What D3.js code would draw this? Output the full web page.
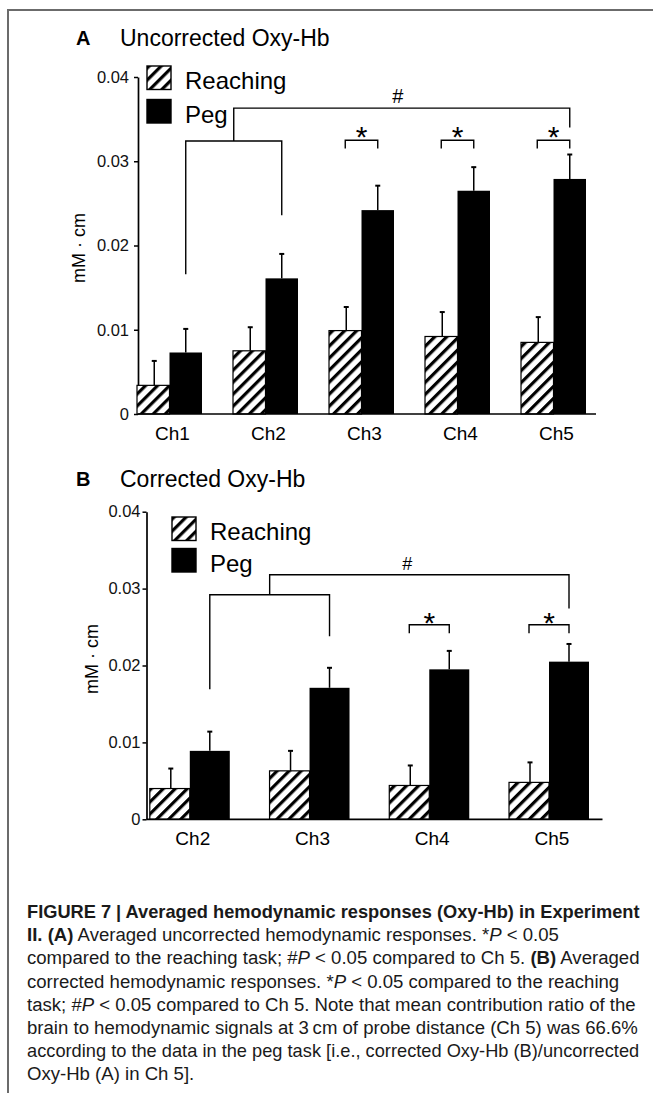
<!DOCTYPE html>
<html>
<head>
<meta charset="utf-8">
<script src="https://cdn.jsdelivr.net/npm/d3@7"></script>
<style>
  body { margin: 0; background: #fff; }
  svg { display: block; font-family: "Liberation Sans", Arial, sans-serif; }
</style>
</head>
<body>
<svg id="fig" width="653" height="1093"></svg>
<script>
// ---- data ----
const channelsA = ['Ch1', 'Ch2', 'Ch3', 'Ch4', 'Ch5'];
const reachingA = [0.0034, 0.0075, 0.0099, 0.0092, 0.0085];
const reachingErrA = [0.0029, 0.0028, 0.0028, 0.0029, 0.0030];
const pegA = [0.0073, 0.0161, 0.0242, 0.0265, 0.0279];
const pegErrA = [0.0028, 0.0029, 0.0029, 0.0028, 0.0029];

const channelsB = ['Ch2', 'Ch3', 'Ch4', 'Ch5'];
const reachingB = [0.0040, 0.0063, 0.0044, 0.0048];
const reachingErrB = [0.0026, 0.0026, 0.0026, 0.0026];
const pegB = [0.0089, 0.0171, 0.0195, 0.0205];
const pegErrB = [0.0025, 0.0026, 0.0024, 0.0023];

const yTicks = [0, 0.01, 0.02, 0.03, 0.04];
const yTickLabels = ['0', '0.01', '0.02', '0.03', '0.04'];
const seriesNames = ['Reaching', 'Peg'];

// significance marks: * brackets (top, leg end) and # bracket levels
const starChannelsA = ['Ch3', 'Ch4', 'Ch5'];
const starLevelsA = [0.0325, 0.0315];
const hashPairA = ['Ch1', 'Ch2'];
const hashTargetA = 'Ch5';
// [left leg end, right leg end, lower top, upper top, target leg end]
const hashLevelsA = [0.0166, 0.0236, 0.0324, 0.0363, 0.0340];

const starChannelsB = ['Ch4', 'Ch5'];
const starLevelsB = [0.0253, 0.0242];
const hashPairB = ['Ch2', 'Ch3'];
const hashTargetB = 'Ch5';
const hashLevelsB = [0.0169, 0.0238, 0.0292, 0.0318, 0.0274];

const captionLines = [
  [['b', 'FIGURE 7 | Averaged hemodynamic responses (Oxy-Hb) in Experiment']],
  [['b', 'II.'], ['n', ' '], ['b', '(A)'], ['n', ' Averaged uncorrected hemodynamic responses. *'], ['i', 'P'], ['n', ' < 0.05']],
  [['n', 'compared to the reaching task; #'], ['i', 'P'], ['n', ' < 0.05 compared to Ch 5. '], ['b', '(B)'], ['n', ' Averaged']],
  [['n', 'corrected hemodynamic responses. *'], ['i', 'P'], ['n', ' < 0.05 compared to the reaching']],
  [['n', 'task; #'], ['i', 'P'], ['n', ' < 0.05 compared to Ch 5. Note that mean contribution ratio of the']],
  [['n', 'brain to hemodynamic signals at 3\u2009cm of probe distance (Ch 5) was 66.6%']],
  [['n', 'according to the data in the peg task [i.e., corrected Oxy-Hb (B)/uncorrected']],
  [['n', 'Oxy-Hb (A) in Ch 5].']]
];

class BarPanel {
  constructor(_config, _channels, _reach, _reachErr, _peg, _pegErr) {
    this.config = _config;
    this.channels = _channels;
    this.reach = _reach;
    this.reachErr = _reachErr;
    this.peg = _peg;
    this.pegErr = _pegErr;
    this.initVis();
  }

  initVis() {
    let vis = this;
    const c = vis.config;
    vis.svg = d3.select(c.parentElement);

    vis.yScale = d3.scaleLinear().domain([0, 0.04]).range(c.yRange);
    vis.xScale = d3.scaleBand()
      .domain(vis.channels)
      .range(c.xRange)
      .paddingInner(c.paddingInner)
      .paddingOuter(0);

    vis.chart = vis.svg.append('g');

    // panel letter + title
    vis.chart.append('text')
      .attr('x', c.letterPos[0]).attr('y', c.letterPos[1])
      .attr('font-size', 20).attr('font-weight', 'bold')
      .text(c.letter);
    vis.chart.append('text')
      .attr('x', c.titlePos[0]).attr('y', c.titlePos[1])
      .attr('font-size', 23)
      .text(c.title);

    // y axis
    vis.yAxis = d3.axisLeft(vis.yScale)
      .tickValues(yTicks)
      .tickFormat((d, i) => yTickLabels[i])
      .tickSize(4)
      .tickSizeOuter(0)
      .tickPadding(c.tickPadding);
    vis.yAxisG = vis.chart.append('g')
      .attr('transform', `translate(${c.axisX},0)`)
      .call(vis.yAxis);
    vis.yAxisG.select('.domain').attr('stroke-width', 1.7);
    vis.yAxisG.selectAll('.tick line').attr('stroke-width', 1.5);
    vis.yAxisG.selectAll('.tick text')
      .attr('font-size', 16.5)
      .attr('font-family', '"Liberation Sans", Arial, sans-serif')
      .attr('fill', '#111');

    vis.chart.append('text')
      .attr('transform', `translate(${c.yLabelPos[0]},${c.yLabelPos[1]}) rotate(-90)`)
      .attr('text-anchor', 'middle')
      .attr('dominant-baseline', 'central')
      .attr('font-size', 18)
      .text('mM \u00b7 cm');

    // legend
    const lg = vis.chart.append('g').attr('transform', `translate(${c.legendPos[0]},${c.legendPos[1]})`);
    seriesNames.forEach((name, i) => {
      lg.append('rect')
        .attr('x', 0).attr('y', i * c.legendGap)
        .attr('width', 24).attr('height', 23.5)
        .attr('fill', i === 0 ? 'url(#hatch)' : '#000')
        .attr('stroke', '#000').attr('stroke-width', 1.4);
      lg.append('text')
        .attr('x', 38).attr('y', i * c.legendGap + 23)
        .attr('font-size', 24)
        .text(name);
    });
  }

  renderVis() {
    let vis = this;
    const c = vis.config;
    const x = vis.xScale, y = vis.yScale;
    const bw = x.bandwidth() / 2;

    const rows = vis.channels.map((ch, i) => ({
      ch, reach: vis.reach[i], reachErr: vis.reachErr[i], peg: vis.peg[i], pegErr: vis.pegErr[i]
    }));

    const groups = vis.chart.selectAll('.grp').data(rows).join('g').attr('class', 'grp');

    groups.append('rect')
      .attr('x', d => x(d.ch)).attr('width', bw)
      .attr('y', d => y(d.reach)).attr('height', d => y(0) - y(d.reach))
      .attr('fill', 'url(#hatch)').attr('stroke', '#000').attr('stroke-width', 1.2);
    groups.append('rect')
      .attr('x', d => x(d.ch) + bw).attr('width', bw)
      .attr('y', d => y(d.peg)).attr('height', d => y(0) - y(d.peg))
      .attr('fill', '#000');

    // error bars (upper only)
    const err = (sel, xf, mean, e) => {
      sel.append('line')
        .attr('x1', xf).attr('x2', xf)
        .attr('y1', d => y(mean(d))).attr('y2', d => y(mean(d) + e(d)))
        .attr('stroke', '#000').attr('stroke-width', 1.5);
      sel.append('line')
        .attr('x1', d => xf(d) - 2.5).attr('x2', d => xf(d) + 2.5)
        .attr('y1', d => y(mean(d) + e(d))).attr('y2', d => y(mean(d) + e(d)))
        .attr('stroke', '#000').attr('stroke-width', 2);
    };
    err(groups, d => x(d.ch) + bw / 2 + 1, d => d.reach, d => d.reachErr);
    err(groups, d => x(d.ch) + bw * 1.5, d => d.peg, d => d.pegErr);

    // x axis line and labels
    vis.chart.append('line')
      .attr('x1', c.axisX).attr('x2', c.axisEnd)
      .attr('y1', y(0)).attr('y2', y(0))
      .attr('stroke', '#000').attr('stroke-width', 1.7);
    vis.chart.selectAll('.xlab').data(vis.channels).join('text')
      .attr('class', 'xlab')
      .attr('x', d => x(d) + x.bandwidth() / 2 + 3)
      .attr('y', c.xLabelY)
      .attr('text-anchor', 'middle')
      .attr('font-size', 19)
      .text(d => d);

    vis.renderMarks();
  }

  renderMarks() {
    let vis = this;
    const c = vis.config;
    const x = vis.xScale, y = vis.yScale;
    const bw = x.bandwidth() / 2;
    const reachC = ch => x(ch) + bw / 2;
    const pegC = ch => x(ch) + bw * 1.5;
    const line = d3.line();
    const marks = vis.chart.append('g')
      .attr('fill', 'none').attr('stroke', '#000').attr('stroke-width', 1.4);

    // * brackets
    c.starChannels.forEach(ch => {
      const [top, leg] = c.starLevels;
      marks.append('path').attr('d', line([
        [reachC(ch), y(leg)], [reachC(ch), y(top)], [pegC(ch), y(top)], [pegC(ch), y(leg)]
      ]));
      vis.chart.append('text')
        .attr('x', (reachC(ch) + pegC(ch)) / 2)
        .attr('y', y(top) + c.starDy)
        .attr('text-anchor', 'middle')
        .attr('font-size', 30)
        .text('*');
    });

    // # bracket
    const [l0, l1, lowTop, upTop, tLeg] = c.hashLevels;
    const xa = pegC(c.hashPair[0]), xb = pegC(c.hashPair[1]);
    const xm = (xa + xb) / 2, xt = pegC(c.hashTarget);
    marks.append('path').attr('d', line([
      [xa, y(l0)], [xa, y(lowTop)], [xb, y(lowTop)], [xb, y(l1)]
    ]));
    marks.append('path').attr('d', line([
      [xm, y(lowTop)], [xm, y(upTop)], [xt, y(upTop)], [xt, y(tLeg)]
    ]));
    vis.chart.append('text')
      .attr('x', (xm + xt) / 2 + c.hashDx)
      .attr('y', y(upTop) + c.hashDy)
      .attr('text-anchor', 'middle')
      .attr('font-size', c.hashSize)
      .text('#');
  }
}

const svg = d3.select('#fig');

// hatch pattern
svg.append('defs').append('pattern')
  .attr('id', 'hatch')
  .attr('patternUnits', 'userSpaceOnUse')
  .attr('width', 8.5).attr('height', 8.5)
  .attr('patternTransform', 'rotate(45)')
  .call(p => {
    p.append('rect').attr('width', 8.5).attr('height', 8.5).attr('fill', '#fff');
    p.append('rect').attr('width', 3.2).attr('height', 8.5).attr('fill', '#000');
  });

// outer frame (top and left edges visible)
svg.append('rect')
  .attr('x', 8).attr('y', 10).attr('width', 700).attr('height', 1150)
  .attr('fill', 'none').attr('stroke', '#6b6b6b').attr('stroke-width', 2);

const panelA = new BarPanel({
  parentElement: '#fig',
  letter: 'A', title: 'Uncorrected Oxy-Hb',
  letterPos: [76, 45], titlePos: [120, 46],
  yRange: [414, 77], xRange: [137, 586], paddingInner: 0.323,
  axisX: 138, axisEnd: 596, tickPadding: 5,
  yLabelPos: [79, 248], xLabelY: 440,
  legendPos: [147, 66], legendGap: 33.5,
  starChannels: starChannelsA, starLevels: starLevelsA, starDy: 7,
  hashPair: hashPairA, hashTarget: hashTargetA, hashLevels: hashLevelsA,
  hashDx: -4, hashDy: -5, hashSize: 20
}, channelsA, reachingA, reachingErrA, pegA, pegErrA);
panelA.renderVis();

const panelB = new BarPanel({
  parentElement: '#fig',
  letter: 'B', title: 'Corrected Oxy-Hb',
  letterPos: [76, 486], titlePos: [120, 487],
  yRange: [819.3, 511.7], xRange: [149.8, 589], paddingInner: 0.332,
  axisX: 146.5, axisEnd: 602.5, tickPadding: 2,
  yLabelPos: [92, 659], xLabelY: 845,
  legendPos: [172, 517], legendGap: 31.5,
  starChannels: starChannelsB, starLevels: starLevelsB, starDy: 8,
  hashPair: hashPairB, hashTarget: hashTargetB, hashLevels: hashLevelsB,
  hashDx: -12, hashDy: -5, hashSize: 18
}, channelsB, reachingB, reachingErrB, pegB, pegErrB);
panelB.renderVis();

// caption: one common horizontal squeeze (condensed look), taken from a full-width line
const cap = svg.append('g').attr('font-size', 19).attr('fill', '#1a1a1a');
const capTexts = captionLines.map((parts, i) => {
  const t = cap.append('text')
    .attr('x', 0).attr('y', 0)
    .attr('transform', `translate(27,${918 + i * 23.2})`);
  parts.forEach(([style, str]) => {
    t.append('tspan')
      .attr('font-weight', style === 'b' ? 'bold' : null)
      .attr('font-style', style === 'i' ? 'italic' : null)
      .text(str);
  });
  return t;
});
const natural = capTexts.map(t => t.node().getComputedTextLength());
const squeeze = (640 - 27) / natural[2];
capTexts.forEach((t, i) => {
  const s = Math.min(squeeze, (640 - 27) / natural[i]);
  t.attr('transform', `translate(27,${918 + i * 23.2}) scale(${s},1)`);
});
</script>
</body>
</html>
